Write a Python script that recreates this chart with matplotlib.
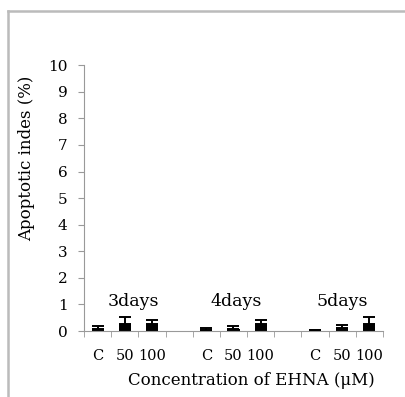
import matplotlib
matplotlib.use("Agg")
import matplotlib.pyplot as plt
from matplotlib.lines import Line2D
import numpy as np

categories = ["C", "50", "100", "", "C", "50", "100", "", "C", "50", "100"]
values = [0.08, 0.27, 0.27, np.nan, 0.04, 0.08, 0.28, np.nan, 0.03, 0.10, 0.25]
errors = [0.10, 0.27, 0.15, np.nan, 0.06, 0.13, 0.13, np.nan, 0.03, 0.12, 0.27]
group_labels = ["3days", "4days", "5days"]
group_centers = [1.3, 5.1, 9.0]

plt.rcParams['font.family'] = ['DejaVu Serif']
fig = plt.figure(figsize=(4.06, 3.97), dpi=100)
ax = fig.add_axes([0.207, 0.166, 0.736, 0.670])

x = np.arange(len(categories))
v = np.array(values, dtype=float)
e = np.array(errors, dtype=float)
mask = ~np.isnan(v)
ax.bar(x[mask], v[mask], width=0.45, color="black", zorder=2)
ax.errorbar(x[mask], v[mask], yerr=[np.zeros(mask.sum()), e[mask]], fmt="none",
            ecolor="black", elinewidth=1.4, capsize=4.5, capthick=1.4, zorder=3)

ax.set_xlim(-0.5, len(categories) - 0.5)
ax.set_ylim(0, 10)
ax.set_yticks(range(0, 11))
ax.tick_params(axis="y", direction="out", length=4, color="#999999", labelsize=11, pad=8)
ax.set_xticks(x)
ax.set_xticklabels(categories, fontsize=10.5)
ax.tick_params(axis="x", length=0, pad=13)
ax.set_xticks(np.arange(-0.5, len(categories)), minor=True)
ax.tick_params(axis="x", which="minor", direction="out", length=4, color="#999999")

for s in ["top", "right"]:
    ax.spines[s].set_visible(False)
for s in ["left", "bottom"]:
    ax.spines[s].set_color("#999999")

for lbl, cx in zip(group_labels, group_centers):
    ax.text(cx, 1.1, lbl, ha="center", va="center", fontsize=12.5)

ax.set_xlabel("Concentration of EHNA (\u03bcM)", fontsize=12)
ax.xaxis.set_label_coords(0.56, -0.155)
ax.set_ylabel("Apoptotic indes (%)", fontsize=12)
ax.yaxis.set_label_coords(-0.165, 0.65)

fig.add_artist(Line2D([0.0197, 1.0], [0.972, 0.972], transform=fig.transFigure, color="#bbbbbb", lw=1.8))
fig.add_artist(Line2D([0.0197, 0.0197], [0.0, 0.972], transform=fig.transFigure, color="#bbbbbb", lw=1.8))

fig.savefig("out.png", dpi=100)
